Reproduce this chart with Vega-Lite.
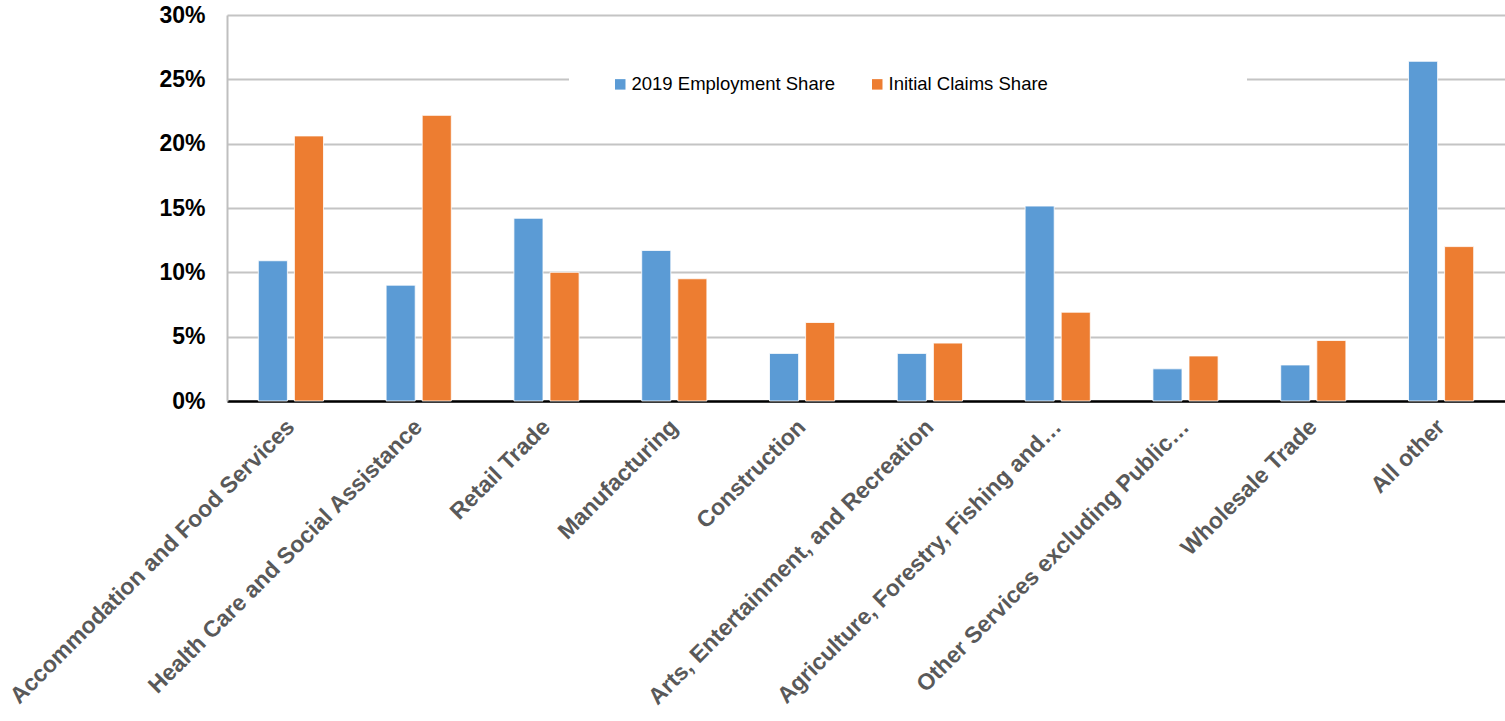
{
  "$schema": "https://vega.github.io/schema/vega-lite/v6.json",
  "autosize": "none",
  "padding": {"left": 227, "top": 15, "right": 0, "bottom": 320},
  "width": 1278,
  "height": 386,
  "background": "white",
  "data": {
    "values": [
      {"industry": "Accommodation and Food Services", "series": "2019 Employment Share", "share": 0.109},
      {"industry": "Accommodation and Food Services", "series": "Initial Claims Share", "share": 0.206},
      {"industry": "Health Care and Social Assistance", "series": "2019 Employment Share", "share": 0.090},
      {"industry": "Health Care and Social Assistance", "series": "Initial Claims Share", "share": 0.222},
      {"industry": "Retail Trade", "series": "2019 Employment Share", "share": 0.142},
      {"industry": "Retail Trade", "series": "Initial Claims Share", "share": 0.100},
      {"industry": "Manufacturing", "series": "2019 Employment Share", "share": 0.117},
      {"industry": "Manufacturing", "series": "Initial Claims Share", "share": 0.095},
      {"industry": "Construction", "series": "2019 Employment Share", "share": 0.037},
      {"industry": "Construction", "series": "Initial Claims Share", "share": 0.061},
      {"industry": "Arts, Entertainment, and Recreation", "series": "2019 Employment Share", "share": 0.037},
      {"industry": "Arts, Entertainment, and Recreation", "series": "Initial Claims Share", "share": 0.045},
      {"industry": "Agriculture, Forestry, Fishing and…", "series": "2019 Employment Share", "share": 0.1515},
      {"industry": "Agriculture, Forestry, Fishing and…", "series": "Initial Claims Share", "share": 0.069},
      {"industry": "Other Services excluding Public…", "series": "2019 Employment Share", "share": 0.025},
      {"industry": "Other Services excluding Public…", "series": "Initial Claims Share", "share": 0.035},
      {"industry": "Wholesale Trade", "series": "2019 Employment Share", "share": 0.028},
      {"industry": "Wholesale Trade", "series": "Initial Claims Share", "share": 0.047},
      {"industry": "All other", "series": "2019 Employment Share", "share": 0.264},
      {"industry": "All other", "series": "Initial Claims Share", "share": 0.120}
    ]
  },
  "mark": {"type": "bar", "stroke": "white", "strokeWidth": 0.8},
  "encoding": {
    "x": {
      "field": "industry",
      "type": "nominal",
      "sort": null,
      "scale": {"paddingInner": 0.49, "paddingOuter": 0.245},
      "axis": {
        "title": null,
        "labelAngle": -45,
        "labelAlign": "right",
        "labelBaseline": "middle",
        "labelFont": "Liberation Sans",
        "labelFontWeight": "bold",
        "labelFontSize": 23,
        "labelColor": "#595959",
        "labelPadding": 22,
        "labelLimit": 600,
        "labelOverlap": false,
        "ticks": false,
        "domainColor": "#000000",
        "domainWidth": 2.5,
        "grid": false
      }
    },
    "xOffset": {
      "field": "series",
      "type": "nominal",
      "scale": {"paddingInner": 0.194, "paddingOuter": 0}
    },
    "y": {
      "field": "share",
      "type": "quantitative",
      "scale": {"domain": [0, 0.3], "nice": false},
      "axis": {
        "title": null,
        "format": ".0%",
        "values": [0, 0.05, 0.1, 0.15, 0.2, 0.25, 0.3],
        "labelFont": "Liberation Sans",
        "labelFontWeight": "bold",
        "labelFontSize": 23,
        "labelColor": "#000000",
        "labelPadding": 22,
        "ticks": false,
        "domainColor": "#BFBFBF",
        "domainWidth": 2,
        "gridColor": "#C4C4C4",
        "gridWidth": 2
      }
    },
    "color": {
      "field": "series",
      "type": "nominal",
      "scale": {"domain": ["2019 Employment Share", "Initial Claims Share"], "range": ["#5B9BD5", "#ED7D31"]},
      "legend": {
        "title": " ",
        "titleOrient": "right",
        "titlePadding": 157,
        "orient": "none",
        "legendX": 342,
        "legendY": 18,
        "direction": "horizontal",
        "fillColor": "white",
        "padding": 42,
        "symbolType": "square",
        "symbolSize": 110,
        "symbolStrokeWidth": 0,
        "labelFont": "Liberation Sans",
        "labelFontSize": 18.5,
        "labelColor": "#000000",
        "labelOffset": 2,
        "columnPadding": 32,
        "labelLimit": 400
      }
    }
  },
  "config": {"view": {"stroke": null}}
}
